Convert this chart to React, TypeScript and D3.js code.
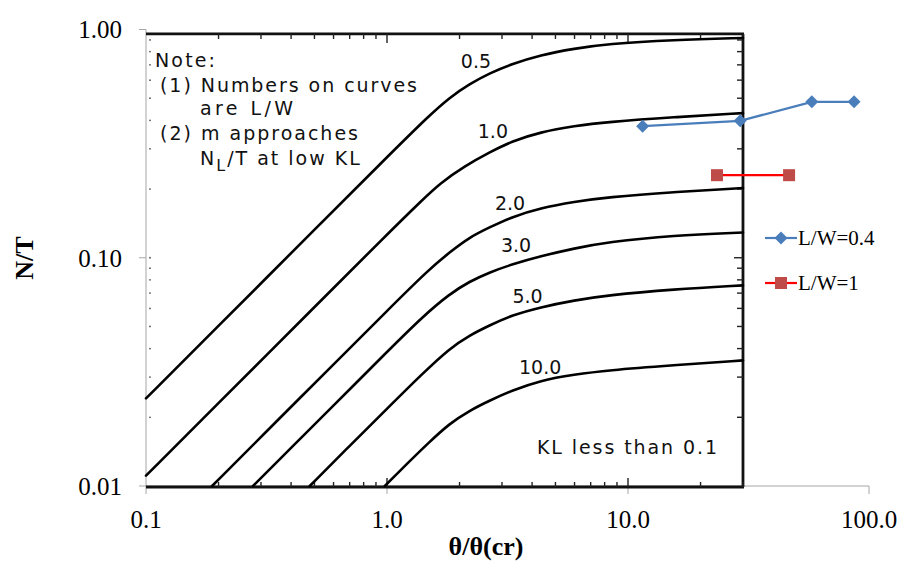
import React from 'react';
import * as d3 from 'd3';

const curve05: [number, number][] = [[0.1, 0.0242], [0.2, 0.0503], [0.5, 0.1327], [1.0, 0.276], [1.5, 0.421], [1.82, 0.504], [2.2, 0.577], [2.67, 0.645], [3.3, 0.706], [4.32, 0.773], [6, 0.825], [8.18, 0.864], [15.4, 0.9], [30, 0.918]];
const curve10: [number, number][] = [[0.1, 0.0111], [0.2, 0.0231], [0.5, 0.0608], [1.0, 0.1265], [1.4, 0.179], [1.66, 0.212], [2.1, 0.252], [2.67, 0.29], [3.3, 0.324], [4.32, 0.355], [6, 0.378], [8.18, 0.393], [15.4, 0.413], [30, 0.43]];
const curve20: [number, number][] = [[0.188, 0.01], [0.3, 0.0164], [0.6, 0.0341], [1.0, 0.0585], [1.5, 0.0893], [1.82, 0.1057], [2.2, 0.123], [2.67, 0.136], [3.3, 0.151], [4.32, 0.165], [6, 0.176], [8.18, 0.184], [15.4, 0.194], [30, 0.202]];
const curve30: [number, number][] = [[0.278, 0.01], [0.4, 0.0147], [0.6, 0.0225], [1.0, 0.0387], [1.4, 0.055], [1.82, 0.0695], [2.2, 0.0787], [2.67, 0.0864], [3.3, 0.0936], [4.32, 0.1015], [6, 0.11], [8.18, 0.117], [15.4, 0.1255], [30, 0.129]];
const curve50: [number, number][] = [[0.478, 0.01], [0.7, 0.015], [1.0, 0.0218], [1.4, 0.031], [1.82, 0.0401], [2.2, 0.0457], [2.67, 0.0506], [3.3, 0.056], [4.32, 0.0607], [6, 0.0651], [8.18, 0.0685], [15.4, 0.0727], [30, 0.0757]];
const curve100: [number, number][] = [[0.98, 0.01], [1.2, 0.0124], [1.5, 0.0156], [1.82, 0.0188], [2.2, 0.0214], [2.67, 0.0237], [3.3, 0.0262], [4.32, 0.029], [6, 0.0308], [8.18, 0.0321], [15.4, 0.0338], [30, 0.0355]];
const curves = [curve05, curve10, curve20, curve30, curve50, curve100];
const curveLabels = ['0.5', '1.0', '2.0', '3.0', '5.0', '10.0'];
const labelX = [2.34, 2.75, 3.24, 3.43, 3.83, 4.32];
const labelY = [0.678, 0.334, 0.162, 0.106, 0.0632, 0.0311];

// measured series
const lw04X = [11.5, 29.2, 57.9, 86.7];
const lw04Y = [0.377, 0.398, 0.482, 0.482];
const lw1X = [23.4, 46.6];
const lw1Y = [0.23, 0.23];

const xTickLabels = ['0.1', '1.0', '10.0', '100.0'];
const yTickLabels = ['0.01', '0.10', '1.00'];
const xMajor = [0.1, 1, 10, 100];
const yMajor = [0.01, 0.1, 1];

const scanXMax = 30;
const scanYMax = 0.956;
const scanYMin = 0.0099;

const noteLines = ['Note:', '(1) Numbers on curves', 'are L/W', '(2) m approaches'];

export default function App() {
  const x = d3.scaleLog().domain([0.1, 100]).range([146, 869]);
  const y = d3.scaleLog().domain([0.01, 1]).range([486, 29.5]);
  const line = d3.line<[number, number]>().x(d => x(d[0])).y(d => y(d[1])).curve(d3.curveBasis);
  const sline = d3.line<[number, number]>().x(d => x(d[0])).y(d => y(d[1]));

  const scanL = x(0.1), scanR = x(scanXMax), scanT = y(scanYMax), scanB = y(scanYMin);
  const xt = x.ticks().filter(v => v > 0.1 && v <= scanXMax);
  const yt = y.ticks().filter(v => v > 0.01 && v < 1);
  const isMajor = (v: number) => Math.abs(Math.log10(v) - Math.round(Math.log10(v))) < 1e-6;

  const scanFont = '"DejaVu Sans", Arial, sans-serif';
  const serif = '"Liberation Serif", "Times New Roman", serif';

  const blue = '#4a7ebb';
  const d04 = lw04X.map((v, i) => [v, lw04Y[i]] as [number, number]);
  const d1 = lw1X.map((v, i) => [v, lw1Y[i]] as [number, number]);
  const diamond = (cx: number, cy: number, r = 6.5) => `M${cx},${cy - r}L${cx + r},${cy}L${cx},${cy + r}L${cx - r},${cy}Z`;

  const noteX = [155, 160, 200, 160];
  const noteW = [60, 257, 93, 198];
  const noteB = [67, 92, 115, 140];

  return (
    <svg width={902} height={564} style={{ position: 'absolute', left: 0, top: 0, background: '#fff' }}>
      {/* excel axes */}
      <g stroke="#a6a6a6" strokeWidth={1} fill="none">
        <line x1={146} x2={146} y1={y(1)} y2={y(0.01)} />
        <line x1={146} x2={869} y1={y(0.01)} y2={y(0.01)} />
        {yMajor.map(v => <line key={'yt' + v} x1={139} x2={146} y1={y(v)} y2={y(v)} />)}
        {xMajor.map(v => <line key={'xt' + v} x1={x(v)} x2={x(v)} y1={486} y2={494} />)}
      </g>

      {/* scanned chart frame */}
      <g stroke="#111" fill="none" strokeWidth={2.8}>
        <line x1={scanL} x2={scanR + 1} y1={scanT} y2={scanT} />
        <line x1={scanR} x2={scanR} y1={scanT} y2={scanB} />
        <line x1={scanL} x2={scanR + 1} y1={scanB} y2={scanB} />
      </g>
      <g stroke="#222" strokeWidth={1.4}>
        {xt.map(v => (
          <g key={'sx' + v}>
            <line x1={x(v)} x2={x(v)} y1={scanT} y2={scanT + (isMajor(v) ? 9 : 5)} />
            <line x1={x(v)} x2={x(v)} y1={scanB} y2={scanB - (isMajor(v) ? 9 : 5)} />
          </g>
        ))}
        {yt.map(v => (
          <line key={'sy' + v} x1={scanR} x2={scanR - (isMajor(v) ? 9 : 6)} y1={y(v)} y2={y(v)} />
        ))}
      </g>
      <g fill="#555">
        {yt.map(v => <circle key={'dot' + v} cx={150} cy={y(v)} r={0.9} />)}
      </g>

      {/* curves */}
      <g fill="none" stroke="#000" strokeWidth={2.6} strokeLinecap="round">
        {curves.map((c, i) => <path key={'c' + i} d={line(c) || ''} />)}
      </g>
      <g fontFamily={scanFont} fontSize={19} fill="#111" textAnchor="middle">
        {curveLabels.map((t, i) => (
          <text key={'l' + i} x={x(labelX[i])} y={y(labelY[i])}>{t}</text>
        ))}
      </g>

      {/* note text */}
      <g fontFamily={scanFont} fontSize={19} fill="#111">
        {noteLines.map((t, i) => (
          <text key={'n' + i} x={noteX[i]} y={noteB[i]} textLength={noteW[i]} lengthAdjust="spacing">{t}</text>
        ))}
        <text x={200} y={165} letterSpacing={2}>
          <tspan>N</tspan>
          <tspan dy={6} fontSize={16}>L</tspan>
          <tspan dy={-6}>/T at low KL</tspan>
        </text>
        <text x={537} y={454} textLength={180} lengthAdjust="spacing">KL less than 0.1</text>
      </g>

      {/* measured series */}
      <path d={sline(d04) || ''} fill="none" stroke={blue} strokeWidth={2.2} />
      {d04.map((d, i) => <path key={'dm' + i} d={diamond(x(d[0]), y(d[1]))} fill={blue} />)}
      <path d={sline(d1) || ''} fill="none" stroke="#ff0000" strokeWidth={2.2} />
      {d1.map((d, i) => <rect key={'sq' + i} x={x(d[0]) - 6} y={y(d[1]) - 6} width={12} height={12} fill="#be4b48" />)}

      {/* tick labels */}
      <g fontFamily={serif} fontSize={25} fill="#000">
        {yMajor.map((v, i) => (
          <text key={'yl' + v} x={122} y={y(v)} dy="0.35em" textAnchor="end">{yTickLabels[i]}</text>
        ))}
        {xMajor.map((v, i) => (
          <text key={'xl' + v} x={x(v)} y={528} textAnchor="middle">{xTickLabels[i]}</text>
        ))}
      </g>
      <text x={486} y={555} textAnchor="middle" fontFamily={serif} fontSize={26} fontWeight="bold">θ/θ(cr)</text>
      <text transform={`translate(33,258) rotate(-90)`} textAnchor="middle" fontFamily={serif} fontSize={26} fontWeight="bold">N/T</text>

      {/* legend */}
      <g fontFamily={serif} fontSize={21}>
        <line x1={765} x2={797} y1={238} y2={238} stroke={blue} strokeWidth={2.2} />
        <path d={diamond(781, 238)} fill={blue} />
        <text x={798} y={245}>L/W=0.4</text>
        <line x1={765} x2={797} y1={283} y2={283} stroke="#ff0000" strokeWidth={2.2} />
        <rect x={775} y={277} width={12} height={12} fill="#be4b48" />
        <text x={798} y={290}>L/W=1</text>
      </g>
    </svg>
  );
}
